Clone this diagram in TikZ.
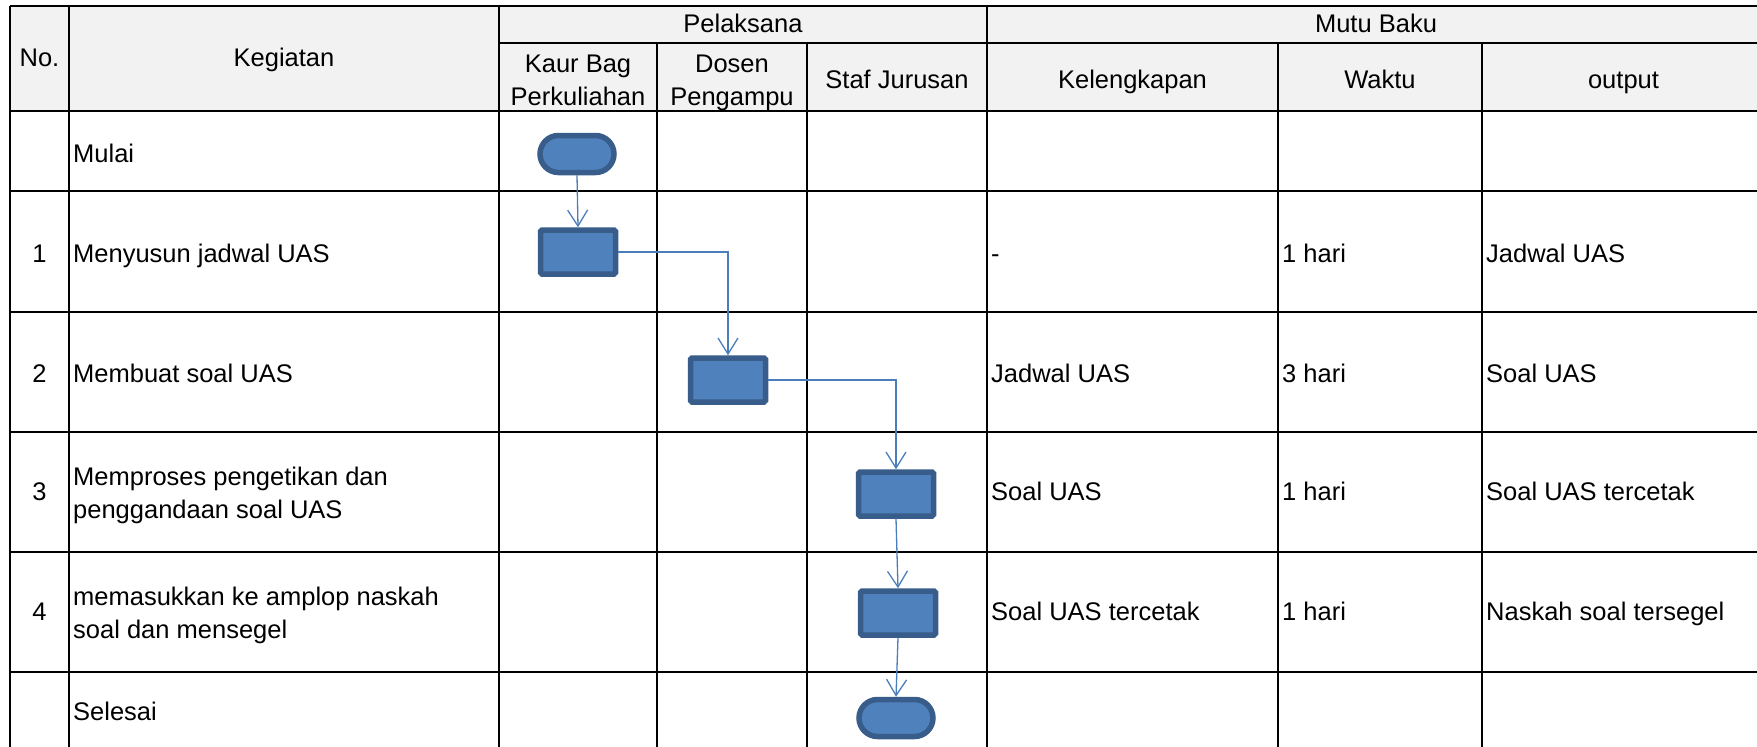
\documentclass[tikz,border=0pt]{standalone}
\usepackage{fontspec}
\setmainfont{Liberation Sans}
\usetikzlibrary{positioning, arrows.meta, shapes.misc}
\definecolor{boxfill}{HTML}{4F81BD}
\definecolor{boxline}{HTML}{385D8A}
\definecolor{linkblue}{HTML}{4A7EBB}
\definecolor{headfill}{HTML}{F2F2F2}

\begin{document}
\begin{tikzpicture}[
        x = 1pt, y = -1pt,
        txt/.style  = {inner sep=0, font=\fontsize{25.5}{33}\selectfont},
        head/.style = {txt, anchor=base, align=center},
        cell/.style = {txt, anchor=base west, align=left},
        grid/.style = {line width=2pt, black},
        proc/.style = {draw=boxline, fill=boxfill, line width=5.5pt, rounded corners=1.5pt, minimum width=75pt, minimum height=44pt, inner sep=0},
        term/.style = {rounded rectangle, draw=boxline, fill=boxfill, line width=5.5pt, minimum width=74pt, minimum height=37pt, inner sep=0},
        flow/.style = {-{Straight Barb[length=16pt, width=20pt, line width=1.3pt]}, draw=linkblue, line width=1.3pt},
    ]
        \useasboundingbox (0,0) rectangle (1757,747);
        \fill[headfill] (10,6) rectangle (1765,111);
        % table lines
        \draw[grid] (10,6) -- (1765,6);
        \draw[grid] (499,43) -- (1765,43);
        \draw[grid] (10,111) -- (1765,111);
        \draw[grid] (10,191) -- (1765,191);
        \draw[grid] (10,312) -- (1765,312);
        \draw[grid] (10,432) -- (1765,432);
        \draw[grid] (10,552) -- (1765,552);
        \draw[grid] (10,672) -- (1765,672);
        \draw[grid] (10,752) -- (1765,752);
        \draw[grid] (10,6) -- (10,752);
        \draw[grid] (69,6) -- (69,752);
        \draw[grid] (499,6) -- (499,752);
        \draw[grid] (987,6) -- (987,752);
        \draw[grid] (657,43) -- (657,752);
        \draw[grid] (807,43) -- (807,752);
        \draw[grid] (1278,43) -- (1278,752);
        \draw[grid] (1482,43) -- (1482,752);
        \draw[grid] (1765,6) -- (1765,752);
        % header (base = last line)
        \node[head] (no) at (39.5,66) {No.};
        \node[head] (keg) at (284,66) {Kegiatan};
        \node[head] (pel) at (743,32) {Pelaksana};
        \node[head] (mutu) at (1376,32.5) {Mutu Baku};
        \node[head] (kaur) at (578,105) {Kaur Bag\\Perkuliahan};
        \node[head] (dosen) at (732,105) {Dosen\\Pengampu};
        \node[head] (staf) at (897,88) {Staf Jurusan};
        \node[head] (kel) at (1132.5,88) {Kelengkapan};
        \node[head] (waktu) at (1380,88) {Waktu};
        \node[head] (outp) at (1623.5,88) {output};
        % rows
        \node[cell] (k0) at (73,162) {Mulai};
        \node[head] (n1) at (39.5,262) {1};
        \node[cell] (k1) at (73,262) {Menyusun jadwal UAS};
        \node[head] (n2) at (39.5,382) {2};
        \node[cell] (k2) at (73,382) {Membuat soal UAS};
        \node[head] (n3) at (39.5,500) {3};
        \node[cell] (k3) at (73,518) {Memproses pengetikan dan\\penggandaan soal UAS};
        \node[head] (n4) at (39.5,620) {4};
        \node[cell] (k4) at (73,638) {memasukkan ke amplop naskah\\soal dan mensegel};
        \node[cell] (k5) at (73,720) {Selesai};
        \node[cell] (kel1) at (991,262) {-};
        \node[cell] (kel2) at (991,382) {Jadwal UAS};
        \node[cell] (kel3) at (991,500) {Soal UAS};
        \node[cell] (kel4) at (991,620) {Soal UAS tercetak};
        \node[cell] (w1) at (1282,262) {1 hari};
        \node[cell] (w2) at (1282,382) {3 hari};
        \node[cell] (w3) at (1282,500) {1 hari};
        \node[cell] (w4) at (1282,620) {1 hari};
        \node[cell] (o1) at (1486,262) {Jadwal UAS};
        \node[cell] (o2) at (1486,382) {Soal UAS};
        \node[cell] (o3) at (1486,500) {Soal UAS tercetak};
        \node[cell] (o4) at (1486,620) {Naskah soal tersegel};
        % flow shapes
        \node[term] (st) at (577,154) {};
        \node[proc] (b1) at (578,252) {};
        \node[proc] (b2) at (728,380) {};
        \node[proc] (b3) at (896,494) {};
        \node[proc] (b4) at (898,613) {};
        \node[term] (en) at (896,718) {};
        \draw[flow] (st.south) -- (b1.north);
        \draw[flow] (b1.east) -| (b2.north);
        \draw[flow] (b2.east) -| (b3.north);
        \draw[flow] (b3.south) -- (b4.north);
        \draw[flow] (b4.south) -- (en.north);
    \end{tikzpicture}
\end{document}
